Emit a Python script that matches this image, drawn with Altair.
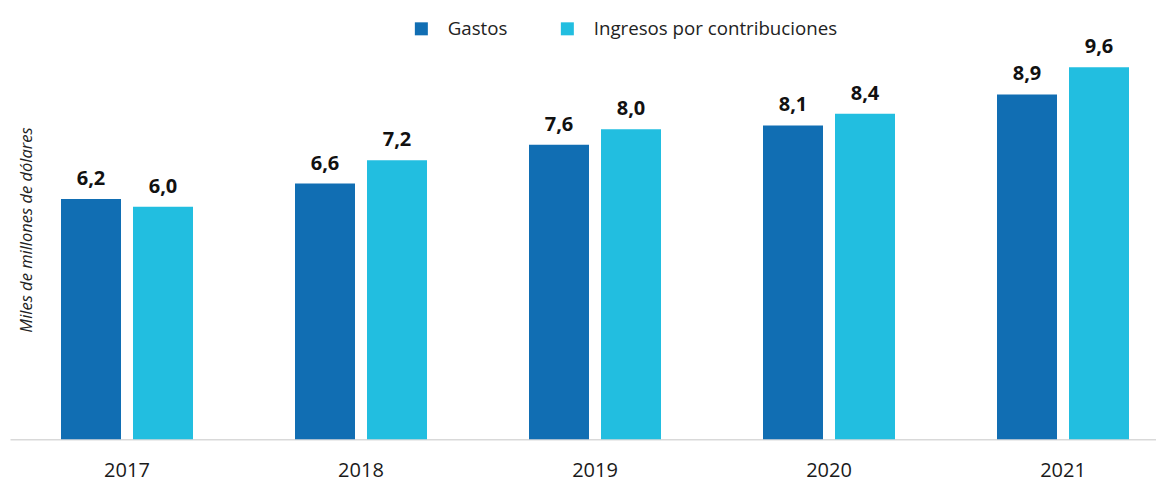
import altair as alt
import pandas as pd

years = ["2017", "2018", "2019", "2020", "2021"]
gastos = [6.2, 6.6, 7.6, 8.1, 8.9]
ingresos = [6.0, 7.2, 8.0, 8.4, 9.6]
series = ["Gastos", "Ingresos por contribuciones"]
colors = ["#116EB3", "#22BEE0"]
y_title = "Miles de millones de dólares"

rows = []
for i, yr in enumerate(years):
    for s, vals in zip(series, [gastos, ingresos]):
        v = vals[i]
        rows.append({"year": yr, "serie": s, "value": v,
                     "label": f"{v:.1f}".replace(".", ",")})
df = pd.DataFrame(rows)

FONT = "Open Sans"

x_enc = alt.X("year:N", sort=years, title=None,
              scale=alt.Scale(paddingInner=0.20513, paddingOuter=0.051282, align=1),
              axis=alt.Axis(labelAngle=0, ticks=False, labelFontSize=20, labelFont=FONT,
                            labelColor="#1a1a1a", labelPadding=21,
                            domainColor="#d9d9d9", domainWidth=1.5))
xoff = alt.XOffset("serie:N", sort=series,
                   scale=alt.Scale(paddingInner=0.16667, paddingOuter=0.375))
y_enc = alt.Y("value:Q", scale=alt.Scale(domain=[0, 11], nice=False), axis=None)

base = alt.Chart(df)
bars = base.mark_bar().encode(
    x=x_enc, xOffset=xoff, y=y_enc,
    color=alt.Color("serie:N", sort=series,
                    scale=alt.Scale(domain=series, range=colors),
                    legend=alt.Legend(title=None, orient="none", direction="horizontal",
                                      legendX=402, legendY=6, symbolType="square",
                                      symbolSize=169, symbolStrokeWidth=0,
                                      labelFontSize=18.7, labelFont=FONT, labelColor="#222222",
                                      labelLimit=400, labelOffset=17, columnPadding=50)),
)
texts = base.mark_text(baseline="alphabetic", dy=-14, fontSize=20, fontWeight="bold",
                       font=FONT, color="#111111").encode(
    x=x_enc, xOffset=xoff, y=y_enc, text="label:N")

ytitle = alt.Chart(pd.DataFrame({"t": [y_title]})).mark_text(
    angle=270, align="center", baseline="alphabetic", fontSize=16.5, fontStyle="italic",
    font=FONT, color="#222222").encode(
    text="t:N", x=alt.value(22), y=alt.value(217))

chart = alt.layer(bars, texts, ytitle).properties(
    width=1146, height=426.25,
    autosize=alt.AutoSizeParams(type="none"),
    padding={"left": 2, "top": 5, "right": 0, "bottom": 42},
).configure_view(stroke=None)

chart.save("out.html", embed_options={"renderer": "svg", "actions": False})
